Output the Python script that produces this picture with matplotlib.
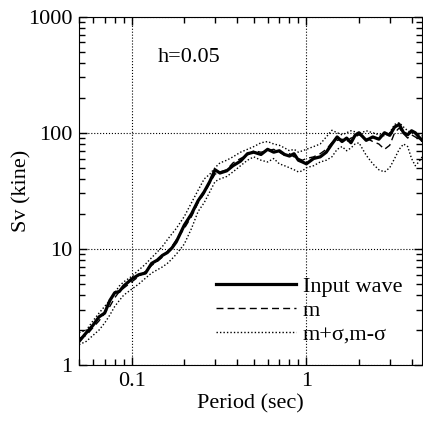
import numpy as np
import matplotlib
matplotlib.use("Agg")
import matplotlib.pyplot as plt
from matplotlib.ticker import FuncFormatter, LogLocator, NullFormatter

plt.rcParams["font.family"] = ["Liberation Serif", "DejaVu Serif"]

# periodo (s)
periodo = [0.05, 0.055, 0.06, 0.065, 0.07, 0.075, 0.08, 0.085, 0.09, 0.1,
           0.11, 0.12, 0.13, 0.14, 0.15, 0.16, 0.17, 0.18, 0.2, 0.22,
           0.24, 0.26, 0.28, 0.3, 0.32, 0.35, 0.38, 0.42, 0.46, 0.5,
           0.55, 0.6, 0.65, 0.7, 0.75, 0.8, 0.85, 0.9, 0.95, 1.0,
           1.1, 1.2, 1.3, 1.4, 1.5, 1.6, 1.7, 1.8, 1.9, 2.0,
           2.2, 2.4, 2.6, 2.8, 3.0, 3.2, 3.4, 3.6, 3.8, 4.0,
           4.2, 4.4, 4.6, 4.8, 5.0]

# onda de entrada
sv_input = [1.6, 1.9, 2.2, 2.6, 2.8, 3.6, 4.2, 4.3, 4.8, 5.5,
            6.0, 6.2, 7.5, 8.0, 8.8, 9.3, 10.2, 11.5, 16, 20,
            26, 31, 38, 48, 45, 47, 52, 57, 66, 68,
            65, 72, 68, 70, 65, 63, 66, 58, 56, 54,
            60, 62, 68, 80, 92, 84, 90, 82, 95, 100,
            86, 92, 88, 100, 95, 112, 118, 100, 96, 104,
            100, 92, 86, 84, 82]

# media m
sv_m = [1.7, 1.8, 2.1, 2.4, 2.8, 3.2, 3.8, 4.3, 4.6, 5.2,
        5.8, 6.4, 7.2, 7.8, 8.5, 9.5, 10.5, 12, 15, 19,
        25, 30, 37, 44, 46, 48, 55, 60, 64, 70,
        68, 70, 72, 68, 64, 66, 62, 60, 58, 60,
        62, 66, 72, 82, 86, 88, 84, 90, 92, 96,
        90, 84, 80, 72, 78, 100, 110, 98, 90, 96,
        92, 88, 84, 80, 78]

# m + sigma
sv_mas = [1.9, 2.0, 2.4, 2.8, 3.2, 3.6, 4.2, 4.8, 5.2, 5.8,
          6.6, 7.4, 8.4, 9.4, 10.5, 12, 13.5, 15, 19, 25,
          32, 40, 44, 50, 55, 58, 62, 68, 72, 76,
          82, 84, 80, 78, 74, 70, 72, 68, 70, 72,
          76, 80, 92, 105, 100, 96, 100, 104, 102, 98,
          104, 100, 96, 94, 100, 118, 122, 112, 104, 100,
          98, 96, 94, 92, 90]

# m - sigma
sv_menos = [1.5, 1.6, 1.8, 2.0, 2.3, 2.7, 3.2, 3.6, 4.0, 4.5,
            5.0, 5.6, 6.2, 6.6, 7.0, 7.5, 8.2, 9.0, 11, 15,
            21, 25, 31, 38, 40, 42, 46, 52, 58, 62,
            58, 56, 60, 54, 52, 50, 48, 46, 47, 50,
            52, 56, 58, 62, 72, 76, 70, 74, 80, 82,
            64, 54, 48, 46, 50, 60, 72, 80, 76, 60,
            52, 56, 62, 66, 70]

fig = plt.figure(figsize=(4.23, 4.25), dpi=100)
ax = fig.add_axes([0.187, 0.141, 0.811, 0.82])

ax.plot(periodo, sv_input, color="black", lw=2.3, label="Input wave")
ax.plot(periodo, sv_m, color="black", lw=1.0, ls=(0, (5, 3)), label="m")
ax.plot(periodo, sv_mas, color="black", lw=1.0, ls=(0, (1, 1.5)), label="m+σ,m-σ")
ax.plot(periodo, sv_menos, color="black", lw=1.0, ls=(0, (1, 1.5)))

ax.set_xscale("log")
ax.set_yscale("log")
ax.set_xlim(0.05, 4.6)
ax.set_ylim(1, 1000)

fmt = FuncFormatter(lambda v, p: "%g" % v)
ax.xaxis.set_major_formatter(fmt)
ax.yaxis.set_major_formatter(fmt)
ax.xaxis.set_minor_formatter(NullFormatter())
ax.yaxis.set_minor_locator(LogLocator(subs=np.arange(2, 10)))

ax.tick_params(which="both", direction="in", top=True, right=True, labelsize=16)
ax.tick_params(which="major", length=6, width=1, pad=5)
ax.tick_params(which="minor", length=4, width=1)
ax.grid(True, which="major", ls=":", color="black", lw=0.8)

ax.set_xlabel("Period (sec)", fontsize=16, labelpad=2)
ax.set_ylabel("Sv (kine)", fontsize=16)
ax.yaxis.set_label_coords(-0.14, 0.5)

ax.text(0.23, 0.87, "h=0.05", transform=ax.transAxes, fontsize=16)

ax.legend(loc="lower right", bbox_to_anchor=(1.0, 0.0), frameon=False,
          fontsize=16, handlelength=3.6, handletextpad=0.3, labelspacing=0.16)

fig.savefig("out.png", dpi=100)
